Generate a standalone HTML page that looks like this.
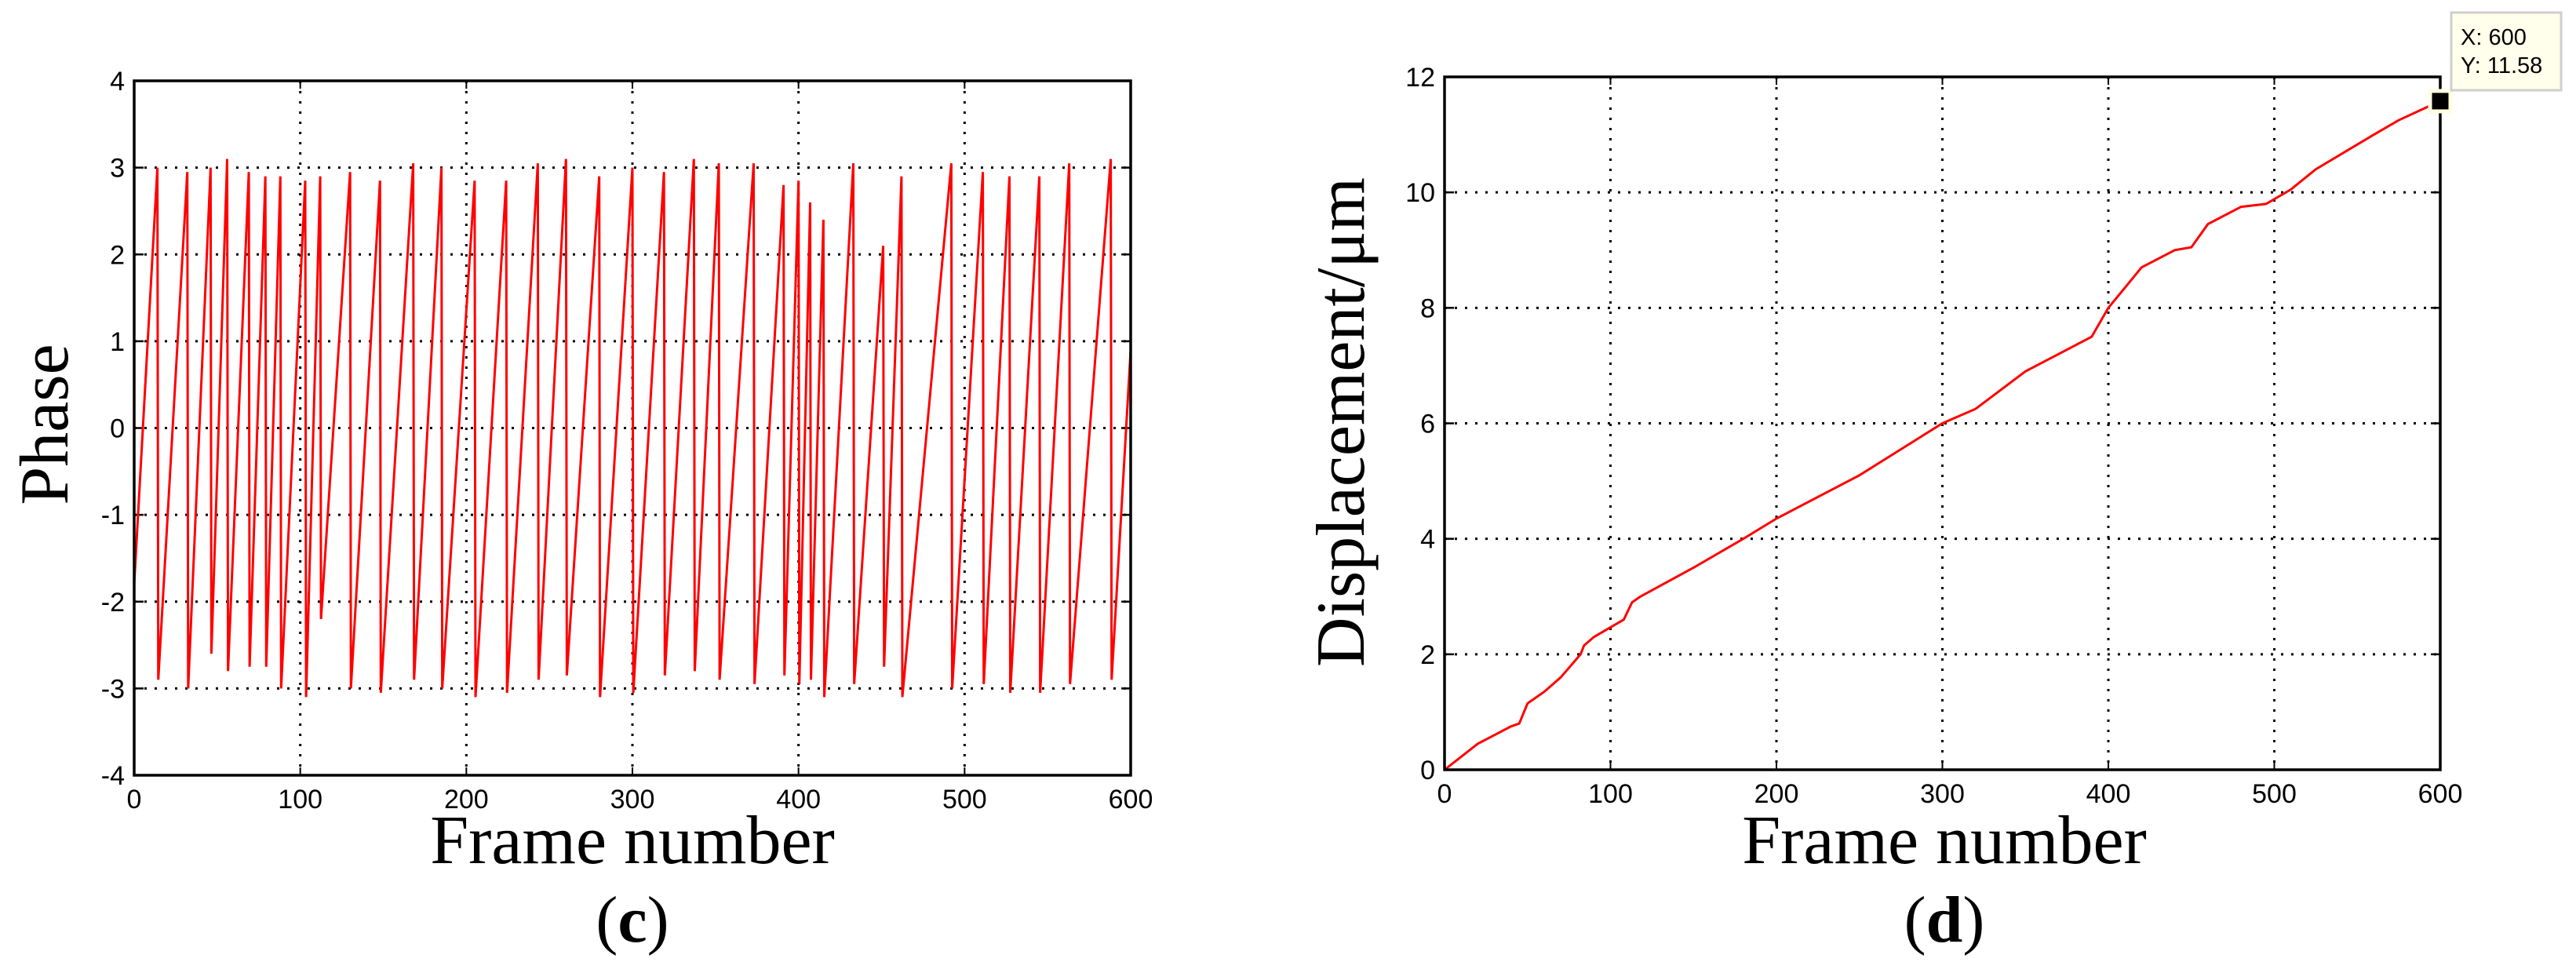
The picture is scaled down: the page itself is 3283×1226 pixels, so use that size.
<!DOCTYPE html>
<html><head><meta charset="utf-8">
<style>
html,body{margin:0;padding:0;background:#fff;}
svg{display:block;}
.tick{font-family:"Liberation Sans",sans-serif;font-size:34px;fill:#000;}
.lab{font-family:"Liberation Serif",serif;fill:#000;}
</style></head>
<body>
<svg id="fig" width="3283" height="1226" viewBox="0 0 3283 1226" xmlns="http://www.w3.org/2000/svg">
<rect width="3283" height="1226" fill="#fff"/>
<g id="pc"></g>
<g id="pd"></g>
<text class="lab" x="0" y="0" font-size="88" text-anchor="middle" transform="translate(86,541) rotate(-90)">Phase</text>
<text class="lab" x="806" y="1100" font-size="88" text-anchor="middle">Frame number</text>
<text class="lab" x="806" y="1200" font-size="84" text-anchor="middle">(<tspan font-weight="bold">c</tspan>)</text>
<text class="lab" x="0" y="0" font-size="88" text-anchor="middle" transform="translate(1738,538) rotate(-90)">Displacement/μm</text>
<text class="lab" x="2478" y="1100" font-size="88" text-anchor="middle">Frame number</text>
<text class="lab" x="2478" y="1200" font-size="84" text-anchor="middle">(<tspan font-weight="bold">d</tspan>)</text>
</svg>
<script>
// Phase chart data (wrapped phase ramps)
const phaseWrapFrames = [14,32,46,56,69,79,88,103,112,130,148,168,185,205,224,243,260,280,300,319,337,352,373,391,400,407,415,433,451,462,492,511,527,545,563,588];
const phasePeaks = [3.0,2.95,3.0,3.1,2.95,2.9,2.9,2.85,2.9,2.95,2.85,3.05,3.0,2.85,2.85,3.05,3.1,2.9,3.0,2.95,3.1,3.05,3.05,2.8,2.85,2.6,2.4,3.05,2.1,2.9,3.05,2.95,2.9,2.9,3.05,3.1];
const phaseLows = [-2.9,-3.0,-2.6,-2.8,-2.75,-2.75,-3.0,-3.1,-2.2,-3.0,-3.05,-2.9,-3.0,-3.1,-3.05,-2.9,-2.85,-3.1,-3.05,-2.85,-2.8,-2.9,-2.95,-2.85,-2.95,-2.9,-3.1,-2.95,-2.75,-3.1,-3.0,-2.95,-3.05,-3.05,-2.95,-2.9];
const phaseStart = -1.8;
const phaseEnd = 0.9;
const phaseXTicks = [0,100,200,300,400,500,600];
const phaseYTicks = [-4,-3,-2,-1,0,1,2,3,4];
// Displacement chart data
const dispFrames = [0,20,40,45,50,60,70,82,84,90,108,113,118,150,180,200,250,300,320,350,380,390,400,410,420,440,450,460,480,495,510,525,560,575,590,600];
const dispValues = [0,0.45,0.75,0.8,1.15,1.35,1.6,2.0,2.15,2.3,2.6,2.9,3.0,3.5,4.0,4.35,5.1,6.0,6.25,6.9,7.35,7.5,8.0,8.35,8.7,9.0,9.05,9.45,9.75,9.8,10.05,10.4,11.0,11.25,11.45,11.58];
const dispXTicks = [0,100,200,300,400,500,600];
const dispYTicks = [0,2,4,6,8,10,12];
const markerX = 600, markerY = 11.58;

const NS="http://www.w3.org/2000/svg";
function mk(tag,attrs,parent){const e=document.createElementNS(NS,tag);for(const k in attrs)e.setAttribute(k,attrs[k]);parent.appendChild(e);return e;}

function axes(g,L,R,T,B,xmin,xmax,ymin,ymax,xt,yt,prefix){
  const sx=v=>L+(v-xmin)/(xmax-xmin)*(R-L);
  const sy=v=>B-(v-ymin)/(ymax-ymin)*(B-T);
  xt.forEach(v=>{
    if(v>xmin&&v<xmax){const l=mk('line',{x1:sx(v),x2:sx(v),y1:T,y2:B,stroke:'#000','stroke-width':3,'stroke-dasharray':'3 10'},g);
    
    }
    mk('line',{x1:sx(v),x2:sx(v),y1:B,y2:B-10,stroke:'#000','stroke-width':2},g);
    mk('line',{x1:sx(v),x2:sx(v),y1:T,y2:T+10,stroke:'#000','stroke-width':2},g);
    const t=mk('text',{x:sx(v),y:B+42,'text-anchor':'middle',class:'tick'},g);t.textContent=v;
    
    
  });
  yt.forEach(v=>{
    if(v>ymin&&v<ymax){const l=mk('line',{x1:L,x2:R,y1:sy(v),y2:sy(v),stroke:'#000','stroke-width':3,'stroke-dasharray':'3 10'},g);
    
    }
    mk('line',{x1:L,x2:L+12,y1:sy(v),y2:sy(v),stroke:'#000','stroke-width':2.5},g);
    mk('line',{x1:R,x2:R-12,y1:sy(v),y2:sy(v),stroke:'#000','stroke-width':2.5},g);
    const t=mk('text',{x:L-12,y:sy(v)+12,'text-anchor':'end',class:'tick'},g);t.textContent=v;
    
    
  });
  return [sx,sy];
}

// Phase chart
{
  const g=document.getElementById('pc');
  const L=171,R=1441,T=103,B=988;
  const [sx,sy]=axes(g,L,R,T,B,0,600,-4,4,phaseXTicks,phaseYTicks,'phase');
  let pts=[[0,phaseStart]];
  for(let i=0;i<phaseWrapFrames.length;i++){
    pts.push([phaseWrapFrames[i],phasePeaks[i]]);
    pts.push([phaseWrapFrames[i]+0.5,phaseLows[i]]);
  }
  pts.push([600,phaseEnd]);
  const p=mk('polyline',{points:pts.map(q=>sx(q[0]).toFixed(1)+','+sy(q[1]).toFixed(1)).join(' '),fill:'none',stroke:'#ff0000','stroke-width':3},g);
  
  
  const f=mk('rect',{x:L,y:T,width:R-L,height:B-T,fill:'none',stroke:'#000','stroke-width':3.5},g);
  
  
}
// Displacement chart
{
  const g=document.getElementById('pd');
  const L=1841,R=3110,T=98,B=981;
  const [sx,sy]=axes(g,L,R,T,B,0,600,0,12,dispXTicks,dispYTicks,'displacement');
  const p=mk('polyline',{points:dispFrames.map((f,i)=>sx(f).toFixed(1)+','+sy(dispValues[i]).toFixed(1)).join(' '),fill:'none',stroke:'#ff0000','stroke-width':3},g);
  
  
  const f=mk('rect',{x:L,y:T,width:R-L,height:B-T,fill:'none',stroke:'#000','stroke-width':3.5},g);
  
  
  const m=mk('rect',{x:sx(markerX)-13,y:sy(markerY)-13,width:26,height:26,fill:'#000',stroke:'#ffffe0','stroke-width':5},g);
  
  
  const tip=mk('g',{},g);
  
  
  mk('rect',{x:3124,y:16,width:140,height:99,fill:'#ffffeb',stroke:'#cfcfcf','stroke-width':3},tip);
  const t1=mk('text',{x:3136,y:57,class:'tick'},tip);t1.textContent='X: '+markerX;
  t1.style.fontSize='29px';
  const t2=mk('text',{x:3136,y:93,class:'tick'},tip);t2.textContent='Y: '+markerY.toFixed(2);
  t2.style.fontSize='29px';
}
</script>
</body></html>
